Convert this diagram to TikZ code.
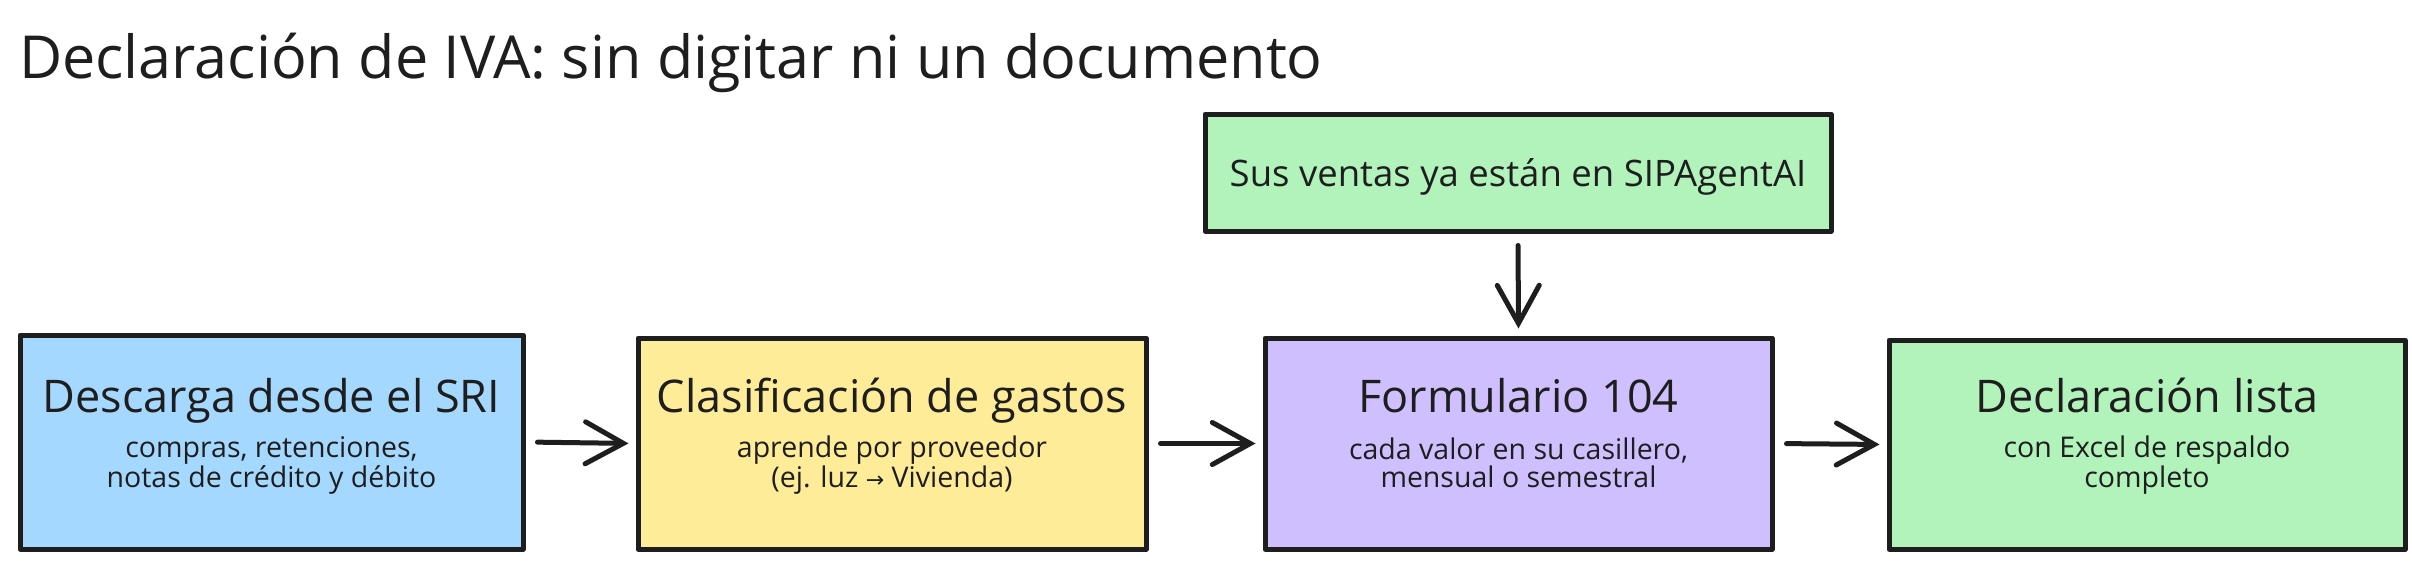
\documentclass[tikz,border=0pt]{standalone}
\usepackage{fontspec}
\setmainfont{Open Sans}
\newfontfamily\symfont{DejaVu Sans}
\usetikzlibrary{arrows.meta}
\definecolor{ink}{HTML}{1E1E1E}
\definecolor{cblue}{HTML}{A5D8FF}
\definecolor{cyellow}{HTML}{FFEC99}
\definecolor{cpurple}{HTML}{D0BFFF}
\definecolor{cgreen}{HTML}{B2F2BB}
\begin{document}
\begin{tikzpicture}[x=1pt,y=-1pt,
  box/.style={draw=ink, line width=5pt, inner sep=0pt, line join=round},
  ttl/.style={text=ink, anchor=base, inner sep=0pt, font=\fontsize{45}{50}\selectfont},
  sub/.style={text=ink, anchor=base, inner sep=0pt, align=center, font=\fontsize{28.5}{28}\selectfont},
  arr/.style={draw=ink, line width=5pt, line cap=round,
    -{Straight Barb[length=38pt,width=42pt,line cap=round]}, shorten <=12pt, shorten >=7pt}]
\useasboundingbox[fill=white] (0,0) rectangle (2412,568);
% title
\node[text=ink, anchor=base west, inner sep=0pt, font=\fontsize{59.3}{64}\selectfont] (title) at (19,78) {Declaración de IVA: sin digitar ni un documento};
% boxes
\node[box, fill=cblue, minimum width=503pt, minimum height=214pt] (b1) at (271.5,442) {};
\node[box, fill=cyellow, minimum width=508pt, minimum height=211pt] (b2) at (892,443.5) {};
\node[box, fill=cpurple, minimum width=507pt, minimum height=211pt] (b3) at (1518.5,443.5) {};
\node[box, fill=cgreen, minimum width=516pt, minimum height=209pt] (b4) at (2147,444.5) {};
\node[box, fill=cgreen, minimum width=626pt, minimum height=117pt] (top) at (1518,172.5) {};
% texts
\node[ttl] (t1) at (271.5,412) {Descarga desde el SRI};
\node[sub] (s1) at (271.5,487) {compras, retenciones,\\notas de crédito y débito};
\node[ttl] (t2) at (892,412) {Clasificación de gastos};
\node[sub] (s2) at (892,487) {aprende por proveedor\\(ej. luz {\symfont\fontsize{22}{28}\selectfont →} Vivienda)};
\node[ttl] (t3) at (1518.5,412) {Formulario 104};
\node[sub] (s3) at (1518.5,487) {cada valor en su casillero,\\mensual o semestral};
\node[ttl] (t4) at (2147,412) {Declaración lista};
\node[sub] (s4) at (2147,487) {con Excel de respaldo\\completo};
\node[text=ink, anchor=base, inner sep=0pt, font=\fontsize{36.5}{40}\selectfont] (tt) at (1518,186) {Sus ventas ya están en SIPAgentAI};
% arrows
\draw[arr] (b1.east) -- (b2.west);
\draw[arr] (b2.east) -- (b3.west);
\draw[arr] (b3.east) -- (b4.west);
\draw[arr] (top.south) -- (b3.north);
\end{tikzpicture}
\end{document}
